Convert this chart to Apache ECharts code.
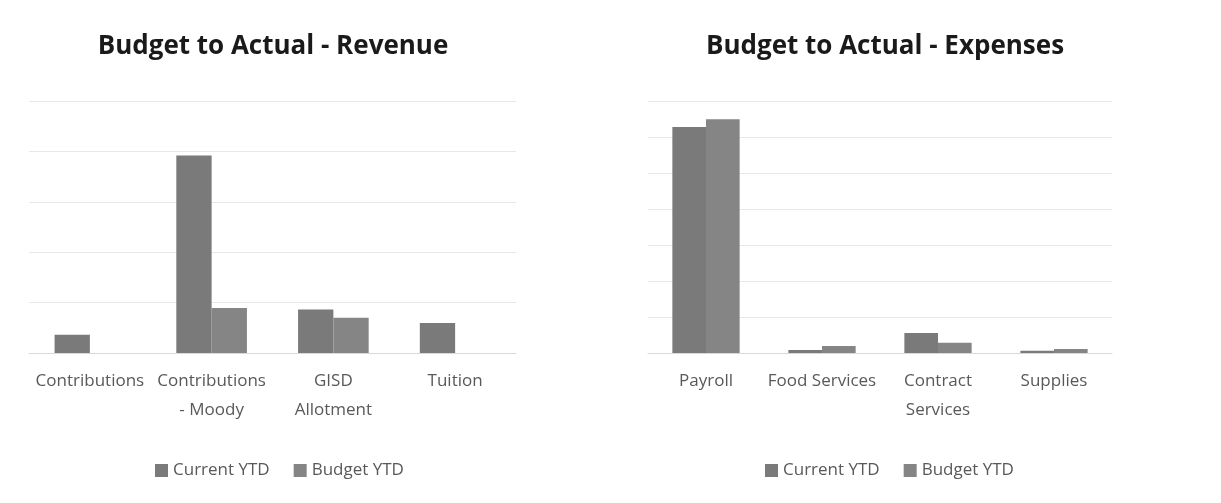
<!DOCTYPE html>
<html><head><meta charset="utf-8">
<script src="https://cdn.jsdelivr.net/npm/echarts@6/dist/echarts.min.js"></script>
<style>html,body{margin:0;padding:0;background:#fff}#c{width:1221px;height:503px}</style>
</head><body><div id="c"></div>
<script>
const revenueCategories = ['Contributions', 'Contributions\n- Moody', 'GISD\nAllotment', 'Tuition'];
const revenueCurrent = [7250, 78400, 17300, 11900];
const revenueBudget = [0, 17900, 14000, 0];
const expenseCategories = ['Payroll', 'Food Services', 'Contract\nServices', 'Supplies'];
const expenseCurrent = [313900, 4200, 27800, 3200];
const expenseBudget = [324600, 9700, 14300, 5600];
const seriesNames = ['Current YTD', 'Budget YTD'];

const FONT = 'Open Sans';
const labelStyle = {color: '#595959', fontSize: 17, fontFamily: FONT, lineHeight: 29, margin: 14};
const chart = echarts.init(document.getElementById('c'), null, {renderer: 'canvas'});
function xAxis(gi, cats) {
  return {type: 'category', gridIndex: gi, data: cats,
    axisLine: {lineStyle: {color: '#d9d9d9'}}, axisTick: {show: false},
    axisLabel: Object.assign({interval: 0}, labelStyle)};
}
function yAxis(gi, max, interval) {
  return {type: 'value', gridIndex: gi, min: 0, max: max, interval: interval,
    axisLabel: {show: false}, axisLine: {show: false}, axisTick: {show: false},
    splitLine: {lineStyle: {color: '#e8e8e8'}}};
}
function bar(name, gi, data, color) {
  return {type: 'bar', name: name, xAxisIndex: gi, yAxisIndex: gi, data: data,
    barGap: '0%', barCategoryGap: '42%', itemStyle: {color: color}};
}
const titleStyle = {fontFamily: FONT, fontWeight: 'bold', fontSize: 26, color: '#1a1a1a'};
const legendText = {color: '#595959', fontSize: 17, fontFamily: FONT};
chart.setOption({
  animation: false,
  title: [
    {text: 'Budget to Actual - Revenue', left: 268, top: 29, textAlign: 'center', textStyle: titleStyle},
    {text: 'Budget to Actual - Expenses', left: 880, top: 29, textAlign: 'center', textStyle: titleStyle}
  ],
  legend: [
    {data: seriesNames, left: 150, top: 457, itemWidth: 13, itemHeight: 13, itemGap: 24, icon: 'rect', textStyle: legendText},
    {data: seriesNames, left: 760, top: 457, itemWidth: 13, itemHeight: 13, itemGap: 24, icon: 'rect', textStyle: legendText}
  ],
  grid: [
    {left: 29, top: 101, width: 487, height: 252},
    {left: 648, top: 101, width: 464, height: 252}
  ],
  xAxis: [xAxis(0, revenueCategories), xAxis(1, expenseCategories)],
  yAxis: [yAxis(0, 100000, 20000), yAxis(1, 350000, 50000)],
  series: [
    bar(seriesNames[0], 0, revenueCurrent, '#7a7a7a'),
    bar(seriesNames[1], 0, revenueBudget, '#858585'),
    bar(seriesNames[0], 1, expenseCurrent, '#7a7a7a'),
    bar(seriesNames[1], 1, expenseBudget, '#858585')
  ]
});
</script></body></html>
